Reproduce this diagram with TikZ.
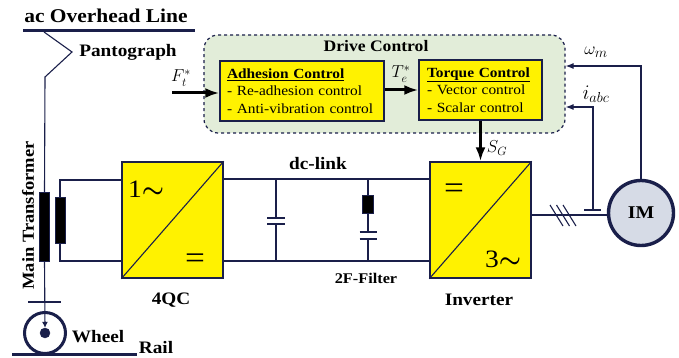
\documentclass[tikz,border=0pt]{standalone}
\usepackage{fontspec}
\setmainfont[FakeStretch=1.1]{Liberation Serif}
\usetikzlibrary{arrows.meta}
\definecolor{ink}{HTML}{1a1f4a}
\definecolor{panel}{HTML}{e2edd9}
\definecolor{motor}{HTML}{d6dbe6}
\newcommand{\ctrltitle}[1]{\textbf{\underline{#1}}}
\tikzset{
  wire/.style={draw=ink, line width=1.1pt},
  bar/.style={draw=ink, line width=3pt},
  sig/.style={-{Latex[length=14pt,width=10pt]}, black, line width=3pt},
  fbk/.style={-{Latex[length=8pt,width=6pt]}, draw=ink, line width=1.1pt},
  conv/.style={rectangle, draw=ink, line width=1.4pt, fill=yellow, minimum width=101pt, minimum height=116pt, inner sep=0pt},
  ctrl/.style={rectangle, draw=ink, line width=1.4pt, fill=yellow, inner sep=0pt, align=left, font=\fontsize{14}{17.5}\selectfont},
  coil/.style={rectangle, draw=ink, fill=black, inner sep=0pt},
  lbl/.style={inner sep=0pt, font=\fontsize{17.5}{20}\selectfont\bfseries},
  sym/.style={inner sep=0pt, font=\fontsize{25}{25}\selectfont},
  eqn/.style={inner sep=0pt, font=\fontsize{32}{32}\selectfont},
  var/.style={inner sep=0pt, font=\fontsize{17}{20}\selectfont}
}
\begin{document}
\begin{tikzpicture}[x=1pt, y=-1pt]
  \useasboundingbox (0,0) rectangle (679,358);
  % drive control panel
  \node[rectangle, draw=ink, fill=panel, line width=1.2pt, dashed, rounded corners=14pt, minimum width=361pt, minimum height=98pt, inner sep=0pt] (drive) at (384.5,84) {};
  \node[lbl, font=\fontsize{16}{18}\selectfont\bfseries] (drivelbl) at (376,46) {Drive Control};
  \node[ctrl, text width=150pt, minimum width=164pt, minimum height=60pt] (adh) at (302,91) {\ctrltitle{Adhesion Control}\\- Re-adhesion control\\- Anti-vibration control};
  \node[ctrl, text width=107pt, minimum width=123pt, minimum height=60pt] (torq) at (480.5,90) {\ctrltitle{Torque Control}\\- Vector control\\- Scalar control};
  % power stage
  \node[conv] (qc) at (172.5,220) {};
  \node[conv] (inv) at (480.5,220) {};
  \draw[wire] (qc.south west) -- (qc.north east);
  \draw[wire] (inv.south west) -- (inv.north east);
  \node[sym] (qcac) at (146,189) {1{\boldmath$\sim$}};
  \node[eqn] (qcdc) at (195,261) {=};
  \node[eqn] (invdc) at (454,191) {=};
  \node[sym] (invac) at (503,259) {3{\boldmath$\sim$}};
  \node[lbl] (qclbl) at (171,300) {4QC};
  \node[lbl] (invlbl) at (479,300) {Inverter};
  \node[lbl] (dclbl) at (318,164) {dc-link};
  \node[lbl, font=\fontsize{14.8}{17}\selectfont\bfseries] (filterlbl) at (366,278) {2F-Filter};
  % dc-link
  \coordinate (qctop) at (223,179);
  \coordinate (qcbot) at (223,261);
  \coordinate (invtop) at (430,179);
  \coordinate (invbot) at (430,261);
  \draw[wire] (qctop) -- (invtop);
  \draw[wire] (qcbot) -- (invbot);
  \coordinate (cap1a) at (276,218);
  \coordinate (cap1b) at (276,224);
  \draw[wire] (276,179) coordinate (dc1top) -- (cap1a);
  \draw[wire] (cap1b) -- (276,261) coordinate (dc1bot);
  \draw[wire] (267,218) -- (285,218);
  \draw[wire] (267,224) -- (285,224);
  \node[coil, minimum width=11pt, minimum height=18pt] (res) at (368,204) {};
  \coordinate (cap2a) at (368,232);
  \coordinate (cap2b) at (368,239);
  \draw[wire] (368,179) coordinate (dc2top) -- (res.north);
  \draw[wire] (res.south) -- (cap2a);
  \draw[wire] (cap2b) -- (368,261) coordinate (dc2bot);
  \draw[wire] (359.5,232) -- (376.5,232);
  \draw[wire] (359.5,239) -- (376.5,239);
  % overhead line and transformer
  \node[lbl, font=\fontsize{19.5}{22}\selectfont\bfseries] (acline) at (106,16) {ac Overhead Line};
  \node[lbl] (pantlbl) at (128,52) {Pantograph};
  \node[lbl, rotate=90, font=\fontsize{16.8}{20}\selectfont\bfseries] (trafolbl) at (28,215.5) {Main Transformer};
  \draw[bar] (23,31) -- (195,31);
  \node[coil, minimum width=10pt, minimum height=69pt] (prim) at (44.5,226.5) {};
  \node[coil, minimum width=10pt, minimum height=46pt] (sec) at (60,220) {};
  \coordinate (pantroot) at (44,32);
  \coordinate (pantknee) at (72,52);
  \coordinate (pantfoot) at (45,77);
  \draw[wire] (pantroot) -- (pantknee) -- (pantfoot) -- (prim.north);
  \draw[wire] (sec.north) |- (122,180);
  \draw[wire] (sec.south) |- (122,261);
  % wheel and rail
  \node[circle, draw=ink, line width=3pt, minimum size=41pt, inner sep=0pt] (wheel) at (45,333) {};
  \node[circle, draw=ink, fill=ink, minimum size=10pt, inner sep=0pt] (hub) at (45,333) {};
  \draw[wire] (28,302) -- (61,302);
  \draw[-{Latex[length=6pt,width=6pt]}, draw=ink, line width=1.1pt] (prim.south) -- (hub.north);
  \draw[bar] (12,354) -- (137,354);
  \node[lbl] (wheellbl) at (98,337) {Wheel};
  \node[lbl] (raillbl) at (156,348) {Rail};
  % motor
  \node[circle, draw=ink, fill=motor, line width=3.4pt, minimum size=65pt, inner sep=0pt, font=\fontsize{18}{20}\selectfont\bfseries] (im) at (641,213) {IM};
  \draw[wire] (531,215) -- (608,215);
  \draw[wire] (550,205) -- (563,226);
  \draw[wire] (556.5,205) -- (569.5,226);
  \draw[wire] (563,205) -- (576,226);
  \draw[wire] (584,210) -- (601,210);
  % signals
  \coordinate (fref) at (172,93);
  \draw[sig] (fref) -- (adh.west |- fref);
  \draw[sig] (adh.east |- 0,90) -- (torq.west |- 0,90);
  \draw[sig] (torq.south) -- (inv.north);
  \node[var] (flbl) at (181,78) {$F_t^*$};
  \node[var] (tlbl) at (401,74) {$T_e^*$};
  \node[var] (sglbl) at (497,148) {$S_G$};
  \node[var, font=\fontsize{19}{22}\selectfont] (wlbl) at (596,52) {$\omega_m$};
  \node[var, font=\fontsize{20}{22}\selectfont] (ilbl) at (596,94) {$i_{abc}$};
  \draw[fbk] (im.north) |- (drive.east |- 0,66);
  \draw[fbk] (593,210) |- (drive.east |- 0,107);
\end{tikzpicture}
\end{document}
